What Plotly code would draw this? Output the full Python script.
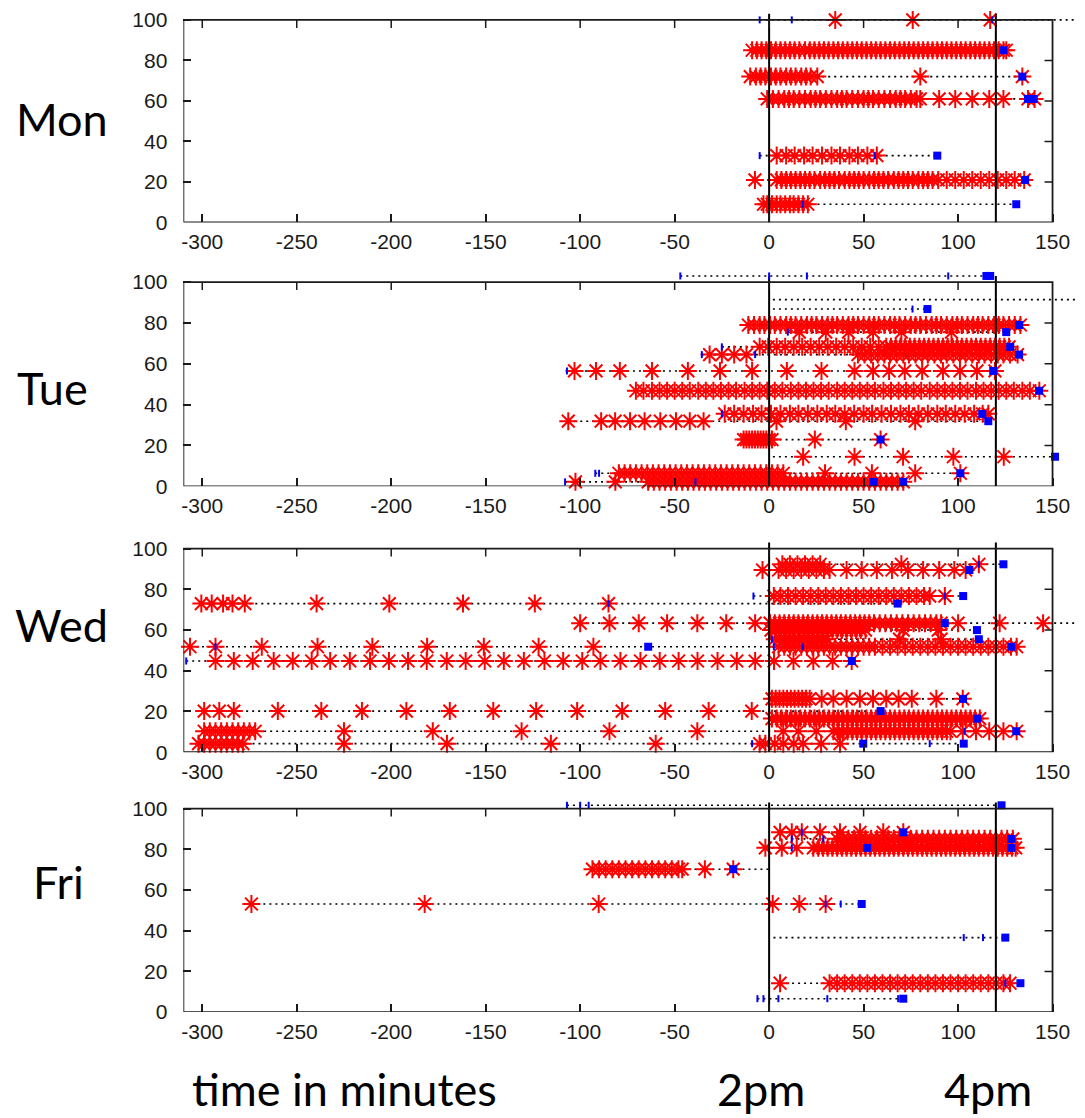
import plotly.graph_objects as go

W, H = 1085, 1118          # browser window
PAGE_MARGIN = 8            # default body margin of the html page
W_FIG, H_FIG = W - PAGE_MARGIN, H - PAGE_MARGIN

# ---------------- axes / ticks ----------------
x_ticks = [-300, -250, -200, -150, -100, -50, 0, 50, 100, 150]
y_ticks = [0, 20, 40, 60, 80, 100]
ref_times = [0, 120]          # 2pm and 4pm markers (minutes)
day_names = ["Mon", "Tue", "Wed", "Fri"]
bottom_labels = ["time in minutes", "2pm", "4pm"]

# ---------------- Mon ----------------
mon_y = [100, 85, 72, 61, 33, 21, 9]
mon_red = [
    [35, 76, 117],
    [-9, -6.5, -4, -1.5, 1, 3.5, 6, 8.5, 11, 13.5, 16, 19, 21.5, 24, 26.5, 29, 31.5, 34, 36.5, 39, 41.5, 44,
     46.5, 49, 51.5, 54, 56.5, 59, 61.5, 64, 66.5, 69, 71.5, 74, 76.5, 79, 81.5, 84, 86.5, 89, 91.5, 94, 96.5,
     99, 101.5, 104, 106.5, 109, 111.5, 114, 116.5, 119, 121.5, 124, 125.5],
    [-10, -7, -4.5, -2, 1, 3.5, 6, 9, 11.5, 14, 17, 19.5, 22, 25.5, 80, 134],
    [-1, 2, 5, 8, 10.5, 13, 16, 19, 22, 24.5, 27, 30, 33, 36, 38.5, 41, 44, 47, 50, 52.5, 55, 58, 61, 64, 67,
     69.5, 72, 75, 78, 80, 90, 98.5, 107.5, 116.5, 124, 137, 140.5],
    [4, 9, 13.5, 18.5, 23, 28, 33, 37.5, 42.5, 47, 52, 57],
    [-7.5, 4, 6.5, 9, 11.5, 14, 16.5, 19, 21.5, 24, 27, 29.5, 32, 34.5, 37, 40, 42.5, 45, 47.5, 50, 53, 55.5,
     58, 60.5, 63, 66, 68.5, 71, 73.5, 76, 79, 81.5, 84, 86.5, 89.5, 94, 98.5, 103, 107.5, 112, 116.5, 121,
     125.5, 130, 135],
    [-3, -1, 1.5, 4, 6, 8.5, 11, 13, 15.5, 18, 20.5],
]
mon_sq = [[], [124], [134], [137, 140], [89], [135.5], [130.8]]
mon_tick = [[-5, 12, 118], [], [], [], [-5, 56], [], [17.8]]
mon_ends = [[180], [], [], [], [], [], []]

# ---------------- Tue ----------------
tue_y = [103, 91.4, 86.8, 79, 75.5, 68.3, 64.5, 56.5, 46.8, 35.5, 31.9, 22.9, 14.5, 6.4, 2.2]
tue_red = [
    [],
    [],
    [],
    [-11, -8, -5, -2.5, 0.5, 3, 6, 9, 11.5, 14, 17, 20, 22.5, 25, 28, 31, 33.5, 36, 39, 42, 44.5, 47, 50, 53,
     55.5, 58, 61, 64, 66.5, 69, 72, 75, 77.5, 80, 83, 86, 88.5, 91, 94, 97, 99.5, 102, 105, 108, 110.5, 113,
     116, 119, 121.5, 124, 127, 130, 133],
    [16, 30, 42, 55, 70, 96.5],
    [-5, -0.5, 4, 8.5, 13, 17.5, 22, 26.5, 31, 35.5, 40, 44.5, 49, 53.5, 58, 62, 64.5, 67, 69.5, 72, 74.5, 77,
     79.5, 82, 84.5, 87, 89.5, 92, 94.5, 97, 99.5, 102, 104.5, 107, 109.5, 112, 114.5, 117, 119.5, 122, 124.5,
     127],
    [-31.5, -25, -18.5, -12, 47, 50.5, 54, 57.5, 61, 64, 67.5, 71, 74, 77.5, 81, 84, 87.5, 91, 94, 97.5, 101,
     104, 107.5, 111, 114, 117.5, 121, 124, 127.5, 131.5],
    [-103, -91.6, -79, -62, -43, -26, -9, 9.4, 27.7, 45.2, 55, 63.5, 71.8, 81, 92, 101, 110, 119.5],
    [-70.5, -66.5, -62, -58, -54, -50, -46, -42, -37.5, -33.5, -29.5, -25.5, -21.5, -17.5, -13, -9, -5, -1, 3,
     7, 11.5, 15.5, 19.5, 23.5, 27.5, 31.5, 36, 40, 44, 48, 52, 56, 60.5, 64.5, 68.5, 72.5, 76.5, 80.5, 85, 89,
     93, 97, 101, 105, 109.5, 113.5, 117.5, 121.5, 125.5, 129.5, 134, 138, 143],
    [-23.5, -18.5, -13.5, -8.5, -4, 1, 6, 11, 15.5, 20.5, 25.5, 30.5, 35, 40, 45, 50, 54.5, 59.5, 64.5, 69.5,
     74, 79, 84, 89, 93.5, 98.5, 103.5, 108.5, 113, 116],
    [-106.3, -88.9, -81.5, -73.6, -65.9, -57.6, -49.3, -42, -34.7, 3.9, 40.6, 77.3],
    [-13.5, -12, -10.5, -9, -7.5, -6, -4.5, -3, -1.5, 0, 1.5, 24.2, 59],
    [18, 45.2, 70.9, 97.5, 124.2],
    [-79.5, -76.5, -73.5, -70.5, -67.5, -64.5, -61.5, -58.5, -55.5, -52.5, -49.5, -46.5, -43.5, -40.5, -37.5,
     -34.5, -31.5, -28.5, -25.5, -22.5, -19.5, -16.5, -13.5, -10.5, -7.5, -4.5, -1.5, 1.5, 4.5, 7.5, 29.6,
     54.4, 77.3, 101.2],
    [-102.5, -81.4, -64, -61, -58, -55, -52, -49, -46, -43, -40, -37, -34, -31, -28, -25, -22, -19, -16, -13,
     -10, -7, -4, -1, 2, 5, 8, 11, 14, 17, 20, 23, 26, 29, 32, 35, 38, 41, 44, 47, 50, 53, 56, 59, 62, 65, 68,
     71],
]
tue_sq = [[115, 117], [], [83.8], [132.3], [125.5], [127.6], [132.3], [118.6], [142.9], [112.8], [116], [59],
          [151.3], [101.2], [55.3, 70.9]]
tue_tick = [[-47, 0, 20, 94.8], [], [75.9], [], [9.9], [-25], [-35.6, -7.4], [-107], [], [-25], [], [], [],
            [-92, -90], [-108, -39]]
tue_ends = [[], [2, 190], [2], [], [], [], [], [], [], [], [], [], [2], [], []]

# ---------------- Wed ----------------
wed_y = [92.3, 89.5, 76.7, 73, 63.4, 60, 55.5, 51.8, 44.8, 26.2, 20.2, 16.5, 10.3, 4.2]
wed_red = [
    [7, 11, 15, 19, 23, 27, 70, 111],
    [-3.5, 5, 9, 13, 17, 21, 25, 29, 32, 41, 49, 57, 65, 73.5, 81.5, 90, 98, 104],
    [2.5, 6, 10, 14, 18, 22, 26, 30, 34, 38, 42, 46, 50, 54, 58, 62, 66, 70, 74, 78, 82, 85, 93],
    [-300.5, -295, -289, -284, -277.5, -239.5, -201, -162, -124, -85],
    [-100, -84.5, -69, -54, -38, -22.7, -7.4, 0.5, 3, 5.5, 8, 10.5, 13, 15.5, 18, 20.5, 23, 25.5, 28, 30.5, 33,
     35.5, 38, 40.5, 43, 45.5, 48, 50.5, 53, 55.5, 58.5, 61.5, 64.5, 67.5, 70.5, 73.5, 76.5, 79.5, 82.5, 85.5,
     88.5, 91, 100, 122, 145],
    [1, 3.5, 6, 8.5, 11, 13.5, 16, 18.5, 21, 23.5, 26, 28.5, 31, 33.5, 36, 38.5, 41, 43.5, 46, 48.5, 51, 71,
     89.5],
    [3, 5.5, 8, 10.5, 13, 15.5, 18, 20.5, 23, 25.5, 28, 30.5, 69, 91],
    [-306.5, -293, -268.5, -239, -210, -181, -151, -122, -93, 5, 8, 11, 14, 17, 20, 23, 26, 29, 32, 35, 38, 41,
     44, 47, 50, 53, 56, 60, 64, 68, 72, 76, 80, 84, 88, 92, 96, 100, 104, 108, 112, 116, 120, 124, 128, 131],
    [-293, -283.3, -273.3, -262.2, -252.1, -242.1, -232.3, -221.9, -211.2, -201.2, -191.1, -181.2, -170.6,
     -160.6, -150.5, -140.4, -129.8, -118.9, -109, -98.9, -89.3, -78.7, -68.1, -57.9, -47.9, -37.9, -27.3,
     -17.1, -7.4, 2.6, 12.9, 23.4, 33.6, 43.7],
    [1.5, 3.5, 5.5, 7.5, 9.5, 11.5, 13.5, 15.5, 17.5, 19.5, 21.5, 27.8, 34, 41, 48, 55, 62, 68.5, 75.5, 88.5,
     102.5],
    [-299, -291, -283.3, -260, -237, -215.5, -192, -169, -146, -123.3, -101.6, -77.8, -55, -32, -9.2],
    [1.5, 4, 6.5, 9, 11.5, 14, 16.5, 19, 21.5, 24, 26.5, 29, 31.5, 34, 36.5, 39, 41.5, 44, 46.5, 49, 51.5, 54,
     56.5, 59, 61.5, 64, 66.5, 69, 71.5, 74, 76.5, 79, 81.5, 84, 86.5, 89, 91.5, 94, 96.5, 99, 101.5, 104,
     106.5, 109, 111.5],
    [-299, -296, -293, -290, -287, -284, -281, -278, -275, -272, -225, -178, -131, -84.5, -38, 7.5, 15.5, 25,
     34, 36.5, 39, 41.5, 44, 46.5, 49, 51.5, 54, 56.5, 59, 61.5, 64, 66.5, 69, 71.5, 74, 76.5, 79, 81.5, 84,
     86.5, 89, 91.5, 94, 96, 102.5, 109.5, 116.5, 124, 131],
    [-302, -299, -296, -293, -290, -287, -284, -281, -278.5, -225, -170.5, -115.5, -60, -5, -2, 3, 7.5, 13, 18,
     27.5, 37.5],
]
wed_sq = [[124], [106], [102.7], [68], [93], [110], [111], [-64, 128.2], [43.8], [102.6], [59], [110.2],
          [130.8], [49.8, 103]]
wed_tick = [[111], [], [-8.3, 93], [-85], [], [], [1.5], [-293, 2.5, 17.8], [-308.5], [], [], [], [103.5],
            [-9, 85]]
wed_ends = [[], [], [], [], [185], [], [], [], [], [], [], [], [], []]

# ---------------- Fri ----------------
fri_y = [101.6, 88.3, 85.1, 80.7, 70.2, 53.1, 36.6, 14.2, 6.6]
fri_red = [
    [],
    [5.8, 12, 17.3, 26.9, 37.5, 48.1, 60.4, 71],
    [36, 39, 42, 45, 48, 51, 54, 57, 60, 63, 66, 69, 72, 75, 78, 81, 84, 87, 90, 93, 96, 99, 102, 105, 108,
     111, 114, 117, 120, 123, 126, 129],
    [-2, 6.7, 14.6, 23.4, 26, 28.5, 31, 33.5, 36, 38.5, 41, 43.5, 46, 48.5, 51, 53.5, 56, 58.5, 61, 63.5, 66,
     68.5, 71, 73.5, 76, 78.5, 81, 83.5, 86, 88.5, 91, 93.5, 96, 98.5, 101, 103.5, 106, 108.5, 111, 113.5, 116,
     118.5, 121, 123.5, 126, 128.5, 130.5],
    [-93.5, -90, -86.5, -83, -79.5, -76, -72.5, -69, -65.5, -62, -58.5, -55, -51.5, -48, -46, -34, -19],
    [-274, -182.3, -90.2, 1.9, 16, 29.9],
    [],
    [5.8, 32, 36, 40, 44, 48, 52, 56, 60, 64, 68, 72, 76, 80, 84, 88, 92, 96, 100, 104, 108, 112, 116, 120,
     124, 127.5],
    [],
]
fri_sq = [[123], [71], [128.2], [128.2, 51.9], [-19], [49], [125], [133], [71]]
fri_tick = [[-107, -100, -95.5], [17.3], [12, 28.7], [12], [], [29.9, 37.9], [103, 113.2], [125],
            [-6.2, -3, 4.9, 30.8, 68.3]]
fri_ends = [[], [], [2.3], [], [0], [], [2.3], [], []]

days = [
    (mon_y, mon_red, mon_sq, mon_tick, mon_ends),
    (tue_y, tue_red, tue_sq, tue_tick, tue_ends),
    (wed_y, wed_red, wed_sq, wed_tick, wed_ends),
    (fri_y, fri_red, fri_sq, fri_tick, fri_ends),
]

# ---------------- geometry (screen pixels) ----------------
FRAME_LEFT_PX = 181.7
PX_PER_MIN = 1.893
X_MIN, X_FRAME_MAX = -310, 150
X_VIEW_MAX = X_MIN + (W - FRAME_LEFT_PX) / PX_PER_MIN
Y_FRAME_MAX, Y_VIEW_EXTRA = 100, 6
REF_TOP = 103
panel_bottom_px = [223, 490, 759, 1022]
panel_top_px = [18, 283.3, 553, 816]
day_label_pos = [(60, 118), (51, 390), (60, 630), (57, 890)]
bottom_label_pos = [(343, 1100), (760, 1100), (988, 1100)]


def fx(px):
    return (px - PAGE_MARGIN) / W_FIG


def fy(py):
    return 1 - (py - PAGE_MARGIN) / H_FIG


RED = "#ff0000"
BLUE = "#0000ff"
INK = "#1a1a1a"
TICK_FONT = dict(family="Liberation Sans", size=21, color=INK)
TEXT_FONT = dict(family="Lato", size=45, color="black")

fig = go.Figure()
layout = dict(width=W_FIG, height=H_FIG, margin=dict(l=0, r=0, t=0, b=0, pad=0), paper_bgcolor="white",
              plot_bgcolor="white", showlegend=False, hovermode=False)
shapes = []
annotations = []

for i, (ys, red, sq, tick, ends) in enumerate(days):
    n = i + 1
    sfx = "" if n == 1 else str(n)
    xa, ya = "x" + sfx, "y" + sfx
    b, t = panel_bottom_px[i], panel_top_px[i]
    k = (b - t) / Y_FRAME_MAX
    top_view = max(t - Y_VIEW_EXTRA * k, PAGE_MARGIN)
    y_view_max = Y_FRAME_MAX + (t - top_view) / k

    # dotted connecting lines
    lx, ly = [], []
    for y, r, s, tk, e in zip(ys, red, sq, tick, ends):
        pts = r + s + tk + e
        if len(pts) >= 2:
            lx += [min(pts), max(pts), None]
            ly += [y, y, None]
    fig.add_trace(go.Scatter(x=lx, y=ly, mode="lines", xaxis=xa, yaxis=ya,
                             line=dict(color="black", width=1.6, dash="2px,4px")))
    # red asterisks
    rx = [v for r in red for v in r]
    ry = [y for y, r in zip(ys, red) for _ in r]
    fig.add_trace(go.Scatter(x=rx, y=ry, mode="markers", xaxis=xa, yaxis=ya, cliponaxis=False,
                             marker=dict(symbol="asterisk-open", size=15, color=RED,
                                         line=dict(color=RED, width=2))))
    # 2pm / 4pm reference lines
    vx, vy = [], []
    for rt in ref_times:
        vx += [rt, rt, None]
        vy += [0, REF_TOP, None]
    fig.add_trace(go.Scatter(x=vx, y=vy, mode="lines", xaxis=xa, yaxis=ya,
                             line=dict(color="black", width=2)))
    # small blue ticks
    tx = [v for r in tick for v in r]
    ty = [y for y, r in zip(ys, tick) for _ in r]
    fig.add_trace(go.Scatter(x=tx, y=ty, mode="markers", xaxis=xa, yaxis=ya, cliponaxis=False,
                             marker=dict(symbol="line-ns-open", size=5, color=BLUE,
                                         line=dict(color=BLUE, width=2))))
    # blue squares
    sx = [v for r in sq for v in r]
    sy = [y for y, r in zip(ys, sq) for _ in r]
    fig.add_trace(go.Scatter(x=sx, y=sy, mode="markers", xaxis=xa, yaxis=ya, cliponaxis=False,
                             marker=dict(symbol="square", size=8, color=BLUE, line=dict(width=0))))

    layout["xaxis" + sfx] = dict(domain=[fx(FRAME_LEFT_PX), 1], range=[X_MIN, X_VIEW_MAX], anchor=ya,
                                 tickmode="array", tickvals=x_ticks, ticktext=[str(v) for v in x_ticks],
                                 ticks="inside", ticklen=8, tickwidth=1.5, tickcolor=INK, showgrid=False,
                                 zeroline=False, showline=False, ticklabelstandoff=5, tickfont=TICK_FONT,
                                 ticklabeloverflow="allow")
    layout["yaxis" + sfx] = dict(domain=[fy(b), min(1, fy(top_view))], range=[0, y_view_max], anchor=xa,
                                 tickmode="array", tickvals=y_ticks, ticktext=[str(v) for v in y_ticks],
                                 ticks="inside", ticklen=8, tickwidth=1.5, tickcolor=INK, showgrid=False,
                                 zeroline=False, showline=False, ticklabelstandoff=15, tickfont=TICK_FONT,
                                 ticklabeloverflow="allow")
    # frame
    shapes.append(dict(type="rect", xref=xa, yref=ya, x0=X_MIN, x1=X_FRAME_MAX, y0=0, y1=Y_FRAME_MAX,
                       line=dict(color=INK, width=1.8), layer="above"))
    # mirrored ticks (top and right)
    for tv in x_ticks:
        if X_MIN < tv < X_FRAME_MAX:
            shapes.append(dict(type="line", xref=xa, yref=ya, x0=tv, x1=tv, ysizemode="pixel",
                               yanchor=Y_FRAME_MAX, y0=0, y1=-8, line=dict(color=INK, width=1.5)))
    for tv in y_ticks:
        if 0 < tv < Y_FRAME_MAX:
            shapes.append(dict(type="line", xref=xa, yref=ya, y0=tv, y1=tv, xsizemode="pixel",
                               xanchor=X_FRAME_MAX, x0=0, x1=-8, line=dict(color=INK, width=1.5)))
    px, py = day_label_pos[i]
    annotations.append(dict(text=day_names[i], xref="paper", yref="paper", x=fx(px), y=fy(py),
                            xanchor="center", yanchor="middle", showarrow=False, font=TEXT_FONT))

for txt, (px, py) in zip(bottom_labels, bottom_label_pos):
    annotations.append(dict(text=txt, xref="paper", yref="paper", x=fx(px), y=fy(py),
                            xanchor="center", yanchor="middle", showarrow=False, font=TEXT_FONT))

layout["shapes"] = shapes
layout["annotations"] = annotations
fig.update_layout(**layout)
fig.write_html("out.html")
